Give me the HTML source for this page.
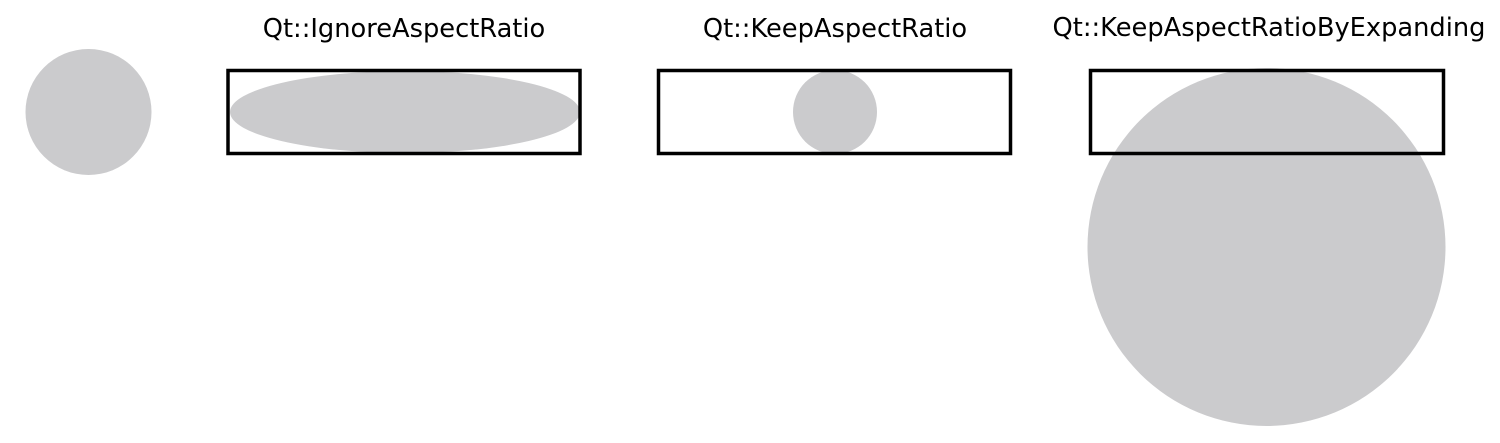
<!DOCTYPE html>
<html><head><style>html,body{margin:0;padding:0;background:#fff;}svg{display:block}</style></head>
<body>
<svg width="1500" height="443" viewBox="0 0 1500 443" xmlns="http://www.w3.org/2000/svg">
<g font-family="DejaVu Sans, Liberation Sans, sans-serif" font-size="25.7" fill="#000" text-anchor="middle">
<text x="404" y="37">Qt::IgnoreAspectRatio</text>
<text x="835" y="37">Qt::KeepAspectRatio</text>
<text x="1269" y="36">Qt::KeepAspectRatioByExpanding</text>
</g>
<circle cx="88.5" cy="112" r="63" fill="#cbcbcd"/>
<ellipse cx="405" cy="112" rx="175" ry="41" fill="#cbcbcd"/>
<rect x="228" y="70.5" width="352" height="83" fill="none" stroke="#000" stroke-width="3.5"/>
<circle cx="835" cy="112" r="42" fill="#cbcbcd"/>
<rect x="658.5" y="70.5" width="352" height="83" fill="none" stroke="#000" stroke-width="3.5"/>
<circle cx="1266.5" cy="247" r="179" fill="#cbcbcd"/>
<rect x="1090.5" y="70.5" width="353" height="83" fill="none" stroke="#000" stroke-width="3.5"/>
</svg>
</body></html>
